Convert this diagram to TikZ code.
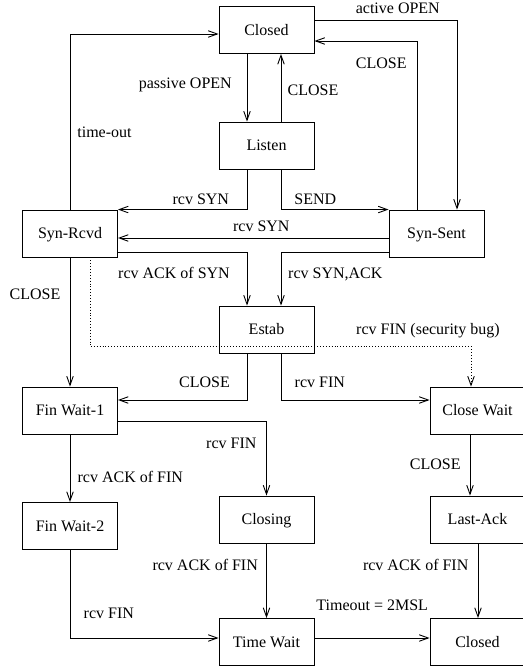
\documentclass[tikz,border=0pt]{standalone}
\usepackage{fontspec}
\setmainfont{Liberation Serif}
\usetikzlibrary{arrows.meta}

\begin{document}
\begin{tikzpicture}[x=1pt,y=-1pt,line width=0.9pt,
    statebox/.style={draw, minimum width=95pt, minimum height=47pt, inner sep=0pt,
      font=\fontsize{16}{19}\selectfont, text height=10.6pt, text depth=0pt},
    lbl/.style={inner sep=0pt, font=\fontsize{16}{19}\selectfont, text height=10.6pt, text depth=0pt},
    arr/.style={-{Straight Barb[length=9pt,width=6.5pt,line width=0.9pt]}}]
  \useasboundingbox (0,0) rectangle (522,666);

  \node [statebox] (closedA)   at (266.5,30)  {Closed};
  \node [statebox] (listen)    at (266.5,145.5) {Listen};
  \node [statebox] (synrcvd)   at (70,233.5)  {Syn-Rcvd};
  \node [statebox] (synsent)   at (436.5,233.5) {Syn-Sent};
  \node [statebox] (estab)     at (266.5,329.5) {Estab};
  \node [statebox] (finwaitA)  at (70,410.5)  {Fin Wait-1};
  \node [statebox] (closewait) at (477.5,410.5) {Close Wait};
  \node [statebox] (finwaitB)  at (70,526)    {Fin Wait-2};
  \node [statebox] (closing)   at (266.5,519.5) {Closing};
  \node [statebox] (lastack)   at (477.5,519.5) {Last-Ack};
  \node [statebox] (timewait)  at (266.5,642) {Time Wait};
  \node [statebox] (closedB)   at (477.5,642) {Closed};

  % open / close
  \draw [arr] ([yshift=10]closedA.east) -| ([xshift=20.5]synsent.north);
  \draw [arr] ([xshift=-19.5]synsent.north) |- ([yshift=-11]closedA.east);
  \draw [arr] ([xshift=-19.5]closedA.south) -- ([xshift=-19.5]listen.north);
  \draw [arr] ([xshift=14.5]listen.north) -- ([xshift=14.5]closedA.south);
  \draw [arr] (synrcvd.north) |- ([yshift=-4]closedA.west);

  % handshake
  \draw [arr] ([xshift=-19.5]listen.south) |- (synrcvd.north east);
  \draw [arr] ([xshift=14.5]listen.south) |- (synsent.north west);
  \draw [arr] ([yshift=-4.5]synsent.west) -- ([yshift=-4.5]synrcvd.east);
  \draw [arr] ([yshift=-18.5]synrcvd.east) -| ([xshift=-19.5]estab.north);
  \draw [arr] ([yshift=-18.5]synsent.west) -| ([xshift=14.5]estab.north);
  \draw [arr] (synrcvd.south) -- (finwaitA.north);
  \draw [arr, dotted] ([xshift=20]synrcvd.south) -- ++(0,89) -| ([xshift=-6.5]closewait.north);

  % teardown
  \draw [arr] ([xshift=-19.5]estab.south) |- ([yshift=10.5]finwaitA.east);
  \draw [arr] ([xshift=14.5]estab.south) |- ([yshift=10.5]closewait.west);
  \draw [arr] ([yshift=-10.5]finwaitA.east) -| (closing.north);
  \draw [arr] (finwaitA.south) -- (finwaitB.north);
  \draw [arr] ([xshift=-7.5]closewait.south) -- ([xshift=-7.5]lastack.north);
  \draw [arr] (closing.south) -- (timewait.north);
  \draw [arr] ([xshift=0.5]lastack.south) -- ([xshift=0.5]closedB.north);
  \draw [arr] (finwaitB.south) |- ([yshift=4]timewait.west);
  \draw [arr] ([yshift=4]timewait.east) -- ([yshift=4]closedB.west);

  \node [lbl] (l1)  at (397.8,8)   {active OPEN};
  \node [lbl] (l2)  at (381.2,62.8) {CLOSE};
  \node [lbl] (l3)  at (185.3,82.8) {passive OPEN};
  \node [lbl] (l4)  at (313,90)    {CLOSE};
  \node [lbl] (l5)  at (104.5,132) {time-out};
  \node [lbl] (l6)  at (200.8,198.8) {rcv SYN};
  \node [lbl] (l7)  at (315.3,198.8) {SEND};
  \node [lbl] (l8)  at (261.3,226.2) {rcv SYN};
  \node [lbl] (l9)  at (174,273.2) {rcv ACK of SYN};
  \node [lbl] (l10) at (335.3,273.2) {rcv SYN,ACK};
  \node [lbl] (l11) at (35,294.3)  {CLOSE};
  \node [lbl] (l12) at (428,328.8) {rcv FIN (security bug)};
  \node [lbl] (l13) at (204.5,382.2) {CLOSE};
  \node [lbl] (l14) at (319.8,382.2) {rcv FIN};
  \node [lbl] (l15) at (231.3,443.2) {rcv FIN};
  \node [lbl] (l16) at (130.3,476.7) {rcv ACK of FIN};
  \node [lbl] (l17) at (435.3,463.8) {CLOSE};
  \node [lbl] (l18) at (205.2,564.7) {rcv ACK of FIN};
  \node [lbl] (l19) at (415.7,564.7) {rcv ACK of FIN};
  \node [lbl] (l20) at (108.8,612.8) {rcv FIN};
  \node [lbl] (l21) at (372.2,605.5) {Timeout = 2MSL};
\end{tikzpicture}
\end{document}
